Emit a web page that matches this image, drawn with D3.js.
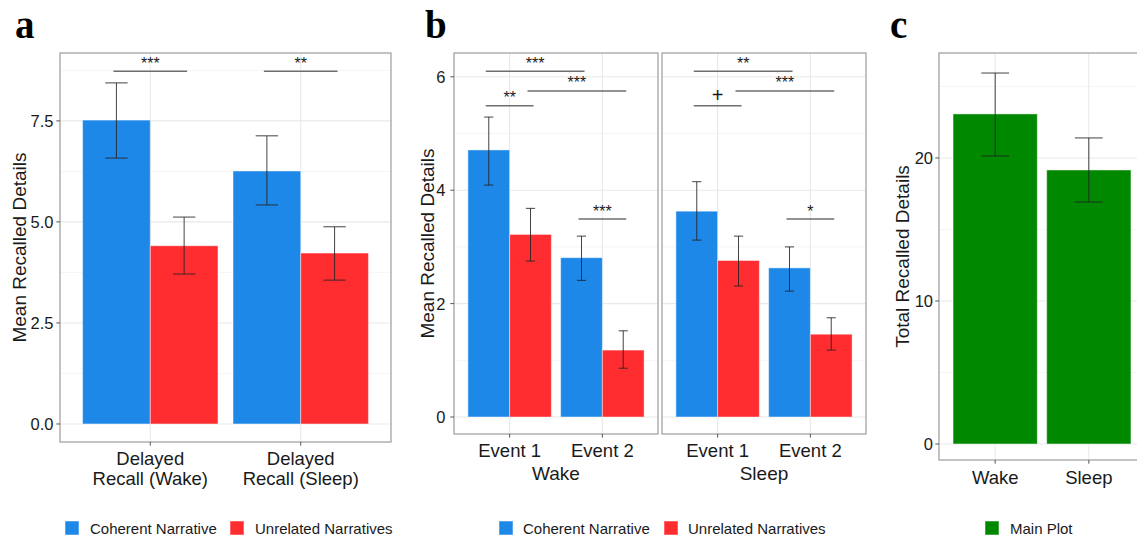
<!DOCTYPE html>
<html><head><meta charset="utf-8">
<script src="https://cdn.jsdelivr.net/npm/d3@7"></script>
<style>
body{margin:0;background:#fff;}
svg{display:block;font-family:"Liberation Sans",Arial,sans-serif;}
</style>
</head><body>
<svg id="chart" width="1137" height="538"></svg>
<script>
// ---------- DATA ----------
const seriesNames = ["Coherent Narrative", "Unrelated Narratives"];

// Panel a
const aCategories = [["Delayed", "Recall (Wake)"], ["Delayed", "Recall (Sleep)"]];
const aCoherent = [7.52, 6.26];
const aCoherentLow = [6.58, 5.42];
const aCoherentHigh = [8.44, 7.13];
const aUnrelated = [4.41, 4.23];
const aUnrelatedLow = [3.71, 3.56];
const aUnrelatedHigh = [5.12, 4.88];
const aTicks = [0, 2.5, 5, 7.5];
const aTickLabels = ["0.0", "2.5", "5.0", "7.5"];
const aDomain = [-0.446, 9.18];
const aSig = [
  {from: [0, 0], to: [0, 1], y: 8.73, label: "***"},
  {from: [1, 0], to: [1, 1], y: 8.73, label: "**"}
];

// Panel b
const bFacets = ["Wake", "Sleep"];
const bCategories = ["Event 1", "Event 2"];
const bWakeCoherent = [4.71, 2.81];
const bWakeCoherentLow = [4.09, 2.41];
const bWakeCoherentHigh = [5.29, 3.19];
const bWakeUnrelated = [3.22, 1.18];
const bWakeUnrelatedLow = [2.75, 0.86];
const bWakeUnrelatedHigh = [3.68, 1.52];
const bSleepCoherent = [3.63, 2.63];
const bSleepCoherentLow = [3.12, 2.22];
const bSleepCoherentHigh = [4.15, 3.00];
const bSleepUnrelated = [2.76, 1.46];
const bSleepUnrelatedLow = [2.31, 1.18];
const bSleepUnrelatedHigh = [3.19, 1.75];
const bTicks = [0, 2, 4, 6];
const bTickLabels = ["0", "2", "4", "6"];
const bDomain = [-0.30, 6.42];
const bWakeSig = [
  {from: [0, 0], to: [1, 0], y: 6.10, label: "***"},
  {from: [0, 1], to: [1, 1], y: 5.75, label: "***"},
  {from: [0, 0], to: [0, 1], y: 5.49, label: "**"},
  {from: [1, 0], to: [1, 1], y: 3.49, label: "***"}
];
const bSleepSig = [
  {from: [0, 0], to: [1, 0], y: 6.10, label: "**"},
  {from: [0, 1], to: [1, 1], y: 5.75, label: "***"},
  {from: [0, 0], to: [0, 1], y: 5.49, label: "+"},
  {from: [1, 0], to: [1, 1], y: 3.49, label: "*"}
];

// Panel c
const cCategories = ["Wake", "Sleep"];
const cSeriesNames = ["Main Plot"];
const cTotal = [23.08, 19.16];
const cTotalLow = [20.14, 16.92];
const cTotalHigh = [25.94, 21.40];
const cTicks = [0, 10, 20];
const cTickLabels = ["0", "10", "20"];
const cDomain = [-1.12, 27.34];

// ---------- STYLE ----------
const BLUE = "#1e88e8", RED = "#ff2d30", GREEN = "#008800";
const TEXT = "#1a1a1a";
const svg = d3.select("#chart");

function buildBars(cats, seriesVals, seriesLow, seriesHigh) {
  const out = [];
  seriesVals.forEach((vals, s) => vals.forEach((v, c) =>
    out.push({cat: c, series: s, value: v, lo: seriesLow[s][c], hi: seriesHigh[s][c]})));
  return out;
}

function drawPanel(o) {
  const g = svg.append("g");
  const x = d3.scalePoint().domain(d3.range(o.nCats)).range([o.left, o.right]).padding(0.6);
  const step = x.step();
  const nS = o.colors.length;
  const barW = 0.9 * step / nS;
  const y = d3.scaleLinear().domain(o.domain).range([o.bottom, o.top]);
  const cx = (c, s) => x(c) + (s - (nS - 1) / 2) * barW;

  // minor grid
  const tStep = o.ticks[1] - o.ticks[0];
  const minor = [];
  for (let v = o.ticks[0] - tStep / 2; v <= o.domain[1]; v += tStep)
    if (v >= o.domain[0]) minor.push(v);
  g.selectAll(".mg").data(minor).join("line")
    .attr("x1", o.left).attr("x2", o.right)
    .attr("y1", d => y(d)).attr("y2", d => y(d))
    .attr("stroke", "#f3f3f3").attr("stroke-width", 0.8);
  g.selectAll(".Mg").data(o.ticks).join("line")
    .attr("x1", o.left).attr("x2", o.right)
    .attr("y1", d => y(d)).attr("y2", d => y(d))
    .attr("stroke", "#e9e9e9").attr("stroke-width", 1.1);
  g.selectAll(".vg").data(d3.range(o.nCats)).join("line")
    .attr("x1", d => x(d)).attr("x2", d => x(d))
    .attr("y1", o.top).attr("y2", o.bottom)
    .attr("stroke", "#e9e9e9").attr("stroke-width", 1.1);

  // bars
  g.selectAll(".bar").data(o.bars).join("rect")
    .attr("x", d => cx(d.cat, d.series) - barW / 2)
    .attr("width", barW)
    .attr("y", d => y(d.value))
    .attr("height", d => y(0) - y(d.value))
    .attr("fill", d => o.colors[d.series])
    .attr("stroke", "rgba(255,255,255,0.45)").attr("stroke-width", 1);

  // error bars
  const cap = o.capFrac * barW;
  const eb = g.selectAll(".eb").data(o.bars).join("g").attr("stroke", "#222").attr("stroke-width", 1).attr("stroke-opacity", 0.85);
  eb.append("line").attr("x1", d => cx(d.cat, d.series)).attr("x2", d => cx(d.cat, d.series))
    .attr("y1", d => y(d.lo)).attr("y2", d => y(d.hi));
  eb.append("line").attr("x1", d => cx(d.cat, d.series) - cap / 2).attr("x2", d => cx(d.cat, d.series) + cap / 2)
    .attr("y1", d => y(d.lo)).attr("y2", d => y(d.lo));
  eb.append("line").attr("x1", d => cx(d.cat, d.series) - cap / 2).attr("x2", d => cx(d.cat, d.series) + cap / 2)
    .attr("y1", d => y(d.hi)).attr("y2", d => y(d.hi));

  // significance
  (o.sig || []).forEach(s => {
    const xa = cx(s.from[0], s.from[1]) - 3, xb = cx(s.to[0], s.to[1]) + 3;
    g.append("line").attr("x1", xa).attr("x2", xb).attr("y1", y(s.y)).attr("y2", y(s.y))
      .attr("stroke", "#6e6e6e").attr("stroke-width", 1.5);
    g.append("text").attr("x", (xa + xb) / 2).attr("y", y(s.y) - (s.label === "+" ? 4 : 2.5))
      .attr("text-anchor", "middle").attr("fill", TEXT)
      .attr("font-size", s.label === "+" ? 20 : 16).text(s.label);
  });

  // border
  g.append("rect").attr("x", o.left).attr("y", o.top)
    .attr("width", o.right - o.left).attr("height", o.bottom - o.top)
    .attr("fill", "none").attr("stroke", "#a3a3a3").attr("stroke-width", 1.3);

  // y axis
  if (o.yAxis) {
    g.selectAll(".yt").data(o.ticks).join("line")
      .attr("x1", o.left - 3.7).attr("x2", o.left).attr("y1", d => y(d)).attr("y2", d => y(d))
      .attr("stroke", "#555").attr("stroke-width", 1);
    g.selectAll(".yl").data(o.ticks).join("text")
      .attr("x", o.left - o.labelGap).attr("y", d => y(d)).attr("dy", "0.36em")
      .attr("text-anchor", "end").attr("font-size", 16.5).attr("fill", TEXT)
      .text((d, i) => o.tickLabels[i]);
    g.append("text").attr("transform", `translate(${o.titleX},${(o.top + o.bottom) / 2}) rotate(-90)`)
      .attr("text-anchor", "middle").attr("font-size", 19).attr("fill", TEXT).text(o.yTitle);
  }
  // x axis
  g.selectAll(".xt").data(d3.range(o.nCats)).join("line")
    .attr("x1", d => x(d)).attr("x2", d => x(d)).attr("y1", o.bottom).attr("y2", o.bottom + 3.7)
    .attr("stroke", "#555").attr("stroke-width", 1);
  o.catLabels.forEach((lab, i) => {
    const lines = Array.isArray(lab) ? lab : [lab];
    const t = g.append("text").attr("text-anchor", "middle").attr("font-size", 18.5).attr("fill", TEXT);
    lines.forEach((ln, k) => t.append("tspan").attr("x", x(i)).attr("y", o.xLabelY + k * 19.5).text(ln));
  });
  if (o.facetLabel) {
    g.append("text").attr("x", (o.left + o.right) / 2).attr("y", o.facetY)
      .attr("text-anchor", "middle").attr("font-size", 19).attr("fill", TEXT).text(o.facetLabel);
  }
}

function legend(items, colors, squareX, textX) {
  items.forEach((name, i) => {
    svg.append("rect").attr("x", squareX[i]).attr("y", 521).attr("width", 14).attr("height", 14)
      .attr("fill", colors[i]).attr("stroke", "rgba(255,255,255,0.5)");
    svg.append("text").attr("x", textX[i]).attr("y", 533.5).attr("font-size", 15)
      .attr("fill", TEXT).text(name);
  });
}

function panelLetter(t, xp) {
  svg.append("text").attr("x", xp).attr("y", 38).attr("font-family", "'Liberation Serif','Times New Roman',serif")
    .attr("font-weight", "bold").attr("font-size", 39).attr("fill", "#000").text(t);
}

// ---------- PANEL A ----------
drawPanel({
  left: 60, right: 391, top: 53, bottom: 442, nCats: 2,
  domain: aDomain, ticks: aTicks, tickLabels: aTickLabels,
  colors: [BLUE, RED], capFrac: 0.33,
  bars: buildBars(aCategories, [aCoherent, aUnrelated], [aCoherentLow, aUnrelatedLow], [aCoherentHigh, aUnrelatedHigh]),
  sig: aSig, yAxis: true, labelGap: 6.5, titleX: 26, yTitle: "Mean Recalled Details",
  catLabels: aCategories, xLabelY: 465
});
legend(seriesNames, [BLUE, RED], [65, 230], [90, 255]);
panelLetter("a", 15);

// ---------- PANEL B ----------
const bFacetBars = [
  buildBars(bCategories, [bWakeCoherent, bWakeUnrelated], [bWakeCoherentLow, bWakeUnrelatedLow], [bWakeCoherentHigh, bWakeUnrelatedHigh]),
  buildBars(bCategories, [bSleepCoherent, bSleepUnrelated], [bSleepCoherentLow, bSleepUnrelatedLow], [bSleepCoherentHigh, bSleepUnrelatedHigh])
];
const bFacetSig = [bWakeSig, bSleepSig];
const bFacetLeft = [454, 662];
bFacets.forEach((f, i) => {
  drawPanel({
    left: bFacetLeft[i], right: bFacetLeft[i] + 204, top: 53, bottom: 434, nCats: 2,
    domain: bDomain, ticks: bTicks, tickLabels: bTickLabels,
    colors: [BLUE, RED], capFrac: 0.22,
    bars: bFacetBars[i], sig: bFacetSig[i],
    yAxis: i === 0, labelGap: 8.5, titleX: 434, yTitle: "Mean Recalled Details",
    catLabels: bCategories, xLabelY: 456.5, facetLabel: f, facetY: 480
  });
});
legend(seriesNames, [BLUE, RED], [499, 664], [523, 688]);
panelLetter("b", 425);

// ---------- PANEL C ----------
drawPanel({
  left: 939, right: 1145, top: 53, bottom: 460, nCats: 2,
  domain: cDomain, ticks: cTicks, tickLabels: cTickLabels,
  colors: [GREEN], capFrac: 0.33,
  bars: buildBars(cCategories, [cTotal], [cTotalLow], [cTotalHigh]),
  yAxis: true, labelGap: 6, titleX: 909, yTitle: "Total Recalled Details",
  catLabels: cCategories, xLabelY: 483.5
});
legend(cSeriesNames, [GREEN], [985], [1010]);
panelLetter("c", 890);
</script>
</body></html>
